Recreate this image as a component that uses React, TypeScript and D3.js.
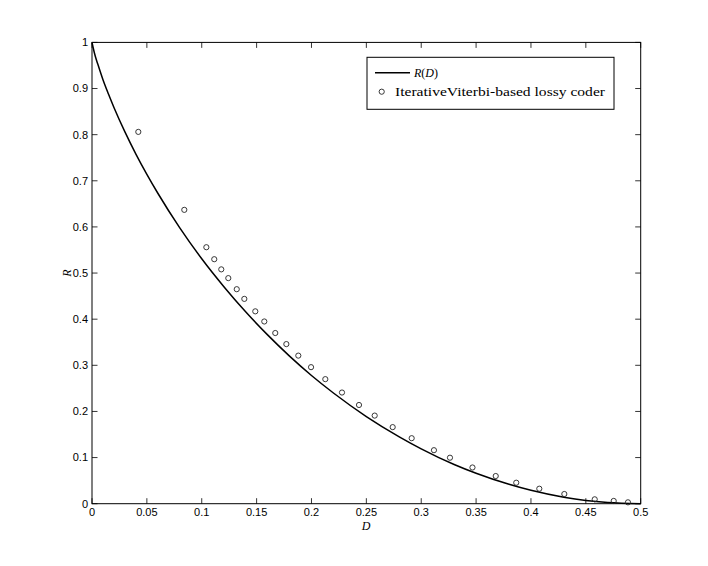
import React from "react";
import * as d3 from "d3";

// R(D) curve samples
const curveD = [0, 0.001, 0.003, 0.005, 0.01, 0.015, 0.02, 0.03, 0.04, 0.05, 0.06, 0.08, 0.1, 0.12, 0.14, 0.16, 0.18, 0.2, 0.22, 0.25, 0.28, 0.3, 0.33, 0.35, 0.38, 0.4, 0.43, 0.45, 0.47, 0.5];
const curveR = [1, 0.989, 0.970, 0.955, 0.919, 0.888, 0.859, 0.806, 0.758, 0.714, 0.673, 0.598, 0.531, 0.471, 0.416, 0.366, 0.320, 0.278, 0.240, 0.189, 0.145, 0.119, 0.085, 0.066, 0.042, 0.029, 0.014, 0.007, 0.0026, 0];

// Iterative Viterbi-based lossy coder points
const coderD = [0.0422, 0.0841, 0.1042, 0.1114, 0.1178, 0.1242, 0.1319, 0.1388, 0.1488, 0.157, 0.167, 0.1771, 0.188, 0.1996, 0.2126, 0.2278, 0.2433, 0.2576, 0.274, 0.2913, 0.3116, 0.3262, 0.3467, 0.3679, 0.3866, 0.4076, 0.4304, 0.4581, 0.4754, 0.4884];
const coderR = [0.806, 0.637, 0.556, 0.53, 0.508, 0.489, 0.465, 0.444, 0.417, 0.395, 0.37, 0.346, 0.321, 0.296, 0.27, 0.241, 0.214, 0.191, 0.166, 0.142, 0.116, 0.0997, 0.0785, 0.06, 0.0455, 0.0325, 0.021, 0.0095, 0.006, 0.003];

const xTicks = [0, 0.05, 0.1, 0.15, 0.2, 0.25, 0.3, 0.35, 0.4, 0.45, 0.5];
const xTickLabels = ["0", "0.05", "0.1", "0.15", "0.2", "0.25", "0.3", "0.35", "0.4", "0.45", "0.5"];
const yTicks = [0, 0.1, 0.2, 0.3, 0.4, 0.5, 0.6, 0.7, 0.8, 0.9, 1];
const yTickLabels = ["0", "0.1", "0.2", "0.3", "0.4", "0.5", "0.6", "0.7", "0.8", "0.9", "1"];

const W = 708, H = 566;
const L = 92, R = 640.7, T = 42.4, B = 503.7;

export default function App() {
  const x = d3.scaleLinear().domain([0, 0.5]).range([L, R]);
  const y = d3.scaleLinear().domain([0, 1]).range([B, T]);
  const line = d3.line<number>().x((_, i) => x(curveD[i])).y((d) => y(d)).curve(d3.curveMonotoneX);
  const tl = 5.5;
  const sans = "'Liberation Sans', Arial, Helvetica, sans-serif";
  const serif = "'Liberation Serif', 'DejaVu Serif', serif";
  return (
    <svg width={W} height={H} style={{ position: "absolute", left: 0, top: 0, background: "#fff" }}>
      <rect x={0} y={0} width={W} height={H} fill="#fff" />
      {/* ticks */}
      {xTicks.map((t, i) => (
        <g key={"xt" + i}>
          <line x1={x(t)} x2={x(t)} y1={B} y2={B - tl} stroke="#000" strokeWidth={0.8} />
          <line x1={x(t)} x2={x(t)} y1={T} y2={T + tl} stroke="#000" strokeWidth={0.8} />
          <text x={x(t)} y={512} dy="0.35em" textAnchor="middle" fontFamily={sans} fontSize={11} fill="#000">{xTickLabels[i]}</text>
        </g>
      ))}
      {yTicks.map((t, i) => (
        <g key={"yt" + i}>
          <line x1={L} x2={L + tl} y1={y(t)} y2={y(t)} stroke="#000" strokeWidth={0.8} />
          <line x1={R} x2={R - tl} y1={y(t)} y2={y(t)} stroke="#000" strokeWidth={0.8} />
          <text x={88} y={y(t)} dy="0.35em" textAnchor="end" fontFamily={sans} fontSize={11} fill="#000">{yTickLabels[i]}</text>
        </g>
      ))}
      {/* box */}
      <rect x={L} y={T} width={R - L} height={B - T} fill="none" stroke="#000" strokeWidth={1} />
      {/* curve */}
      <path d={line(curveR) || ""} fill="none" stroke="#000" strokeWidth={1.5} />
      {/* markers */}
      {coderD.map((d, i) => (
        <circle key={"c" + i} cx={x(d)} cy={y(coderR[i])} r={2.6} fill="none" stroke="#222" strokeWidth={0.9} />
      ))}
      {/* axis labels */}
      <text x={366} y={526} dy="0.35em" textAnchor="middle" fontFamily={serif} fontStyle="italic" fontSize={12} fill="#000">D</text>
      <text transform="translate(67,273) rotate(-90)" dy="0.35em" textAnchor="middle" fontFamily={serif} fontStyle="italic" fontSize={12} fill="#000">R</text>
      {/* legend */}
      <rect x={367} y={57.3} width={247} height={52} fill="#fff" stroke="#000" strokeWidth={1} />
      <line x1={375} x2={410} y1={72.7} y2={72.7} stroke="#000" strokeWidth={1.5} />
      <text x={414} y={72.7} dy="0.35em" fontFamily={serif} fontSize={12} fill="#000">
        <tspan fontStyle="italic">R</tspan>(<tspan fontStyle="italic">D</tspan>)
      </text>
      <circle cx={381.7} cy={91.7} r={2.6} fill="none" stroke="#222" strokeWidth={0.9} />
      <text x={395} y={91.7} dy="0.35em" fontFamily={serif} fontSize={12} fill="#000" textLength={210} lengthAdjust="spacingAndGlyphs">IterativeViterbi-based lossy coder</text>
    </svg>
  );
}
